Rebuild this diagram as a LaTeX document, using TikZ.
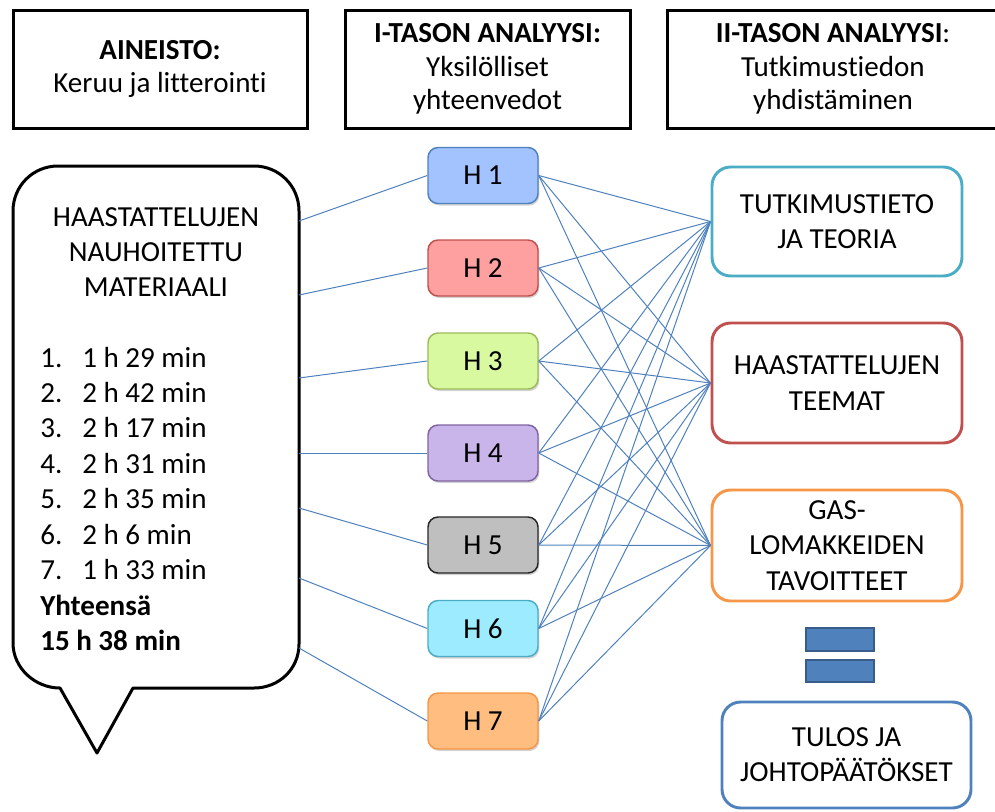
\documentclass[tikz,border=0pt]{standalone}
\usepackage{fontspec}
\setmainfont{Carlito}[Ligatures=NoCommon]
\usetikzlibrary{shadows}

\definecolor{linkblue}{HTML}{4F81BD}
\definecolor{barblue}{HTML}{4F81BD}
\definecolor{bardark}{HTML}{385D8A}
\definecolor{teal}{HTML}{4BACC6}
\definecolor{brick}{HTML}{C0504D}
\definecolor{tangerine}{HTML}{F79646}
\definecolor{olive}{HTML}{9BBB59}
\definecolor{violet}{HTML}{8064A2}
\definecolor{fillA}{HTML}{A2C3FF}
\definecolor{fillB}{HTML}{FFA0A0}
\definecolor{fillC}{HTML}{D8F9A0}
\definecolor{fillD}{HTML}{C9B5EA}
\definecolor{fillE}{HTML}{BFBFBF}
\definecolor{fillF}{HTML}{9DEBFF}
\definecolor{fillG}{HTML}{FFBE80}

\begin{document}
\begin{tikzpicture}[x=0.75pt,y=-0.75pt,
  txt/.style={font=\fontsize{21.8}{26.4}\selectfont},
  headbox/.style={draw=black, line width=2.25pt, minimum height=88.5pt,
    align=center, font=\fontsize{21.8}{25}\selectfont},
  hbox/.style={rounded corners=7.5pt, line width=1.1pt, minimum width=82.5pt,
    minimum height=42pt, txt,
    drop shadow={shadow xshift=1pt, shadow yshift=-1.5pt, opacity=0.35}},
  resbox/.style={draw, rounded corners=14pt, line width=2.2pt, fill=white,
    minimum width=187.5pt, align=center, txt},
  item/.style={txt, inner sep=0pt, anchor=base west},
  link/.style={draw=linkblue, line width=0.75pt},
  bar/.style={draw=bardark, line width=1.2pt, fill=barblue}
]
\useasboundingbox (0,0) rectangle (995,811);

% column headings
\node[headbox, minimum width=220.5pt] (aineisto) at (160,69)
  {\textbf{AINEISTO:}\\Keruu ja litterointi};
\node[headbox, minimum width=213.75pt] (taso1) at (487.5,69)
  {\textbf{I-TASON ANALYYSI:}\\Yksilölliset\\yhteenvedot};
\node[headbox, minimum width=249pt] (taso2) at (833,69)
  {\textbf{II-TASON ANALYYSI}:\\Tutkimustiedon\\yhdistäminen};

% speech bubble holding the interview material
\draw[line width=2.25pt, line join=round, fill=white]
  (13,211) .. controls (13,186) and (33,166) .. (58,166)
  -- (254,166) .. controls (279,166) and (299,186) .. (299,211)
  -- (299,644) .. controls (299,669) and (279,688) .. (254,688)
  -- (133,688) -- (97,753) -- (60,688)
  .. controls (35,688) and (13,668) .. (13,643) -- cycle;

\node[txt, align=center] (otsikko) at (156,252)
  {HAASTATTELUJEN\\NAUHOITETTU\\MATERIAALI};

\foreach \i/\t in {1/1 h 29 min, 2/2 h 42 min, 3/2 h 17 min, 4/2 h 31 min,
                   5/2 h 35 min, 6/2 h 6 min, 7/1 h 33 min} {
  \node[item] (num\i) at (40,{367+35.4*(\i-1)}) {\i.};
  \node[item] (aika\i) at (82,{367+35.4*(\i-1)}) {\t};
}
\node[item, font=\fontsize{21.8}{26.4}\selectfont\bfseries] (yht) at (40,615) {Yhteensä};
\node[item, font=\fontsize{21.8}{26.4}\selectfont\bfseries] (summa) at (40,650) {15 h 38 min};

% points on the bubble edge where the links start
\coordinate (b1) at (299,221);
\coordinate (b2) at (299,295);
\coordinate (b3) at (299,378);
\coordinate (b4) at (299,453);
\coordinate (b5) at (299,508);
\coordinate (b6) at (299,578);
\coordinate (b7) at (299,648);

% individual summaries
\node[hbox, draw=linkblue, fill=fillA] (h1) at (483,175.5) {H 1};
\node[hbox, draw=brick, fill=fillB] (h2) at (483,268) {H 2};
\node[hbox, draw=olive, fill=fillC] (h3) at (483,361) {H 3};
\node[hbox, draw=violet, fill=fillD] (h4) at (483,453) {H 4};
\node[hbox, draw=black!85, fill=fillE] (h5) at (483,545) {H 5};
\node[hbox, draw=teal, fill=fillF] (h6) at (483,628.5) {H 6};
\node[hbox, draw=tangerine, fill=fillG] (h7) at (483,721) {H 7};

% synthesis targets
\node[resbox, draw=teal, minimum height=81.75pt] (teoria) at (837,221.5)
  {TUTKIMUSTIETO\\JA TEORIA};
\node[resbox, draw=brick, minimum height=90pt] (teemat) at (837,383)
  {HAASTATTELUJEN\\TEEMAT};
\node[resbox, draw=tangerine, minimum height=83.25pt] (gas) at (837,545.5)
  {GAS-\\LOMAKKEIDEN\\TAVOITTEET};

% equals sign
\node[bar, minimum width=51pt, minimum height=17pt, inner sep=0pt] (yla) at (840,639.5) {};
\node[bar, minimum width=51pt, minimum height=16.5pt, inner sep=0pt] (ala) at (840,671) {};

\node[resbox, draw=linkblue, minimum width=186.75pt, minimum height=79.5pt] (tulos)
  at (846.5,755) {TULOS JA\\JOHTOPÄÄTÖKSET};

% links from the material to the summaries
\foreach \i in {1,...,7} {
  \draw[link] (b\i) -- (h\i.west);
}

% links from every summary to every target
\foreach \i in {1,...,7} {
  \foreach \k in {teoria, teemat, gas} {
    \draw[link] (h\i.east) -- (\k.west);
  }
}
\end{tikzpicture}
\end{document}
